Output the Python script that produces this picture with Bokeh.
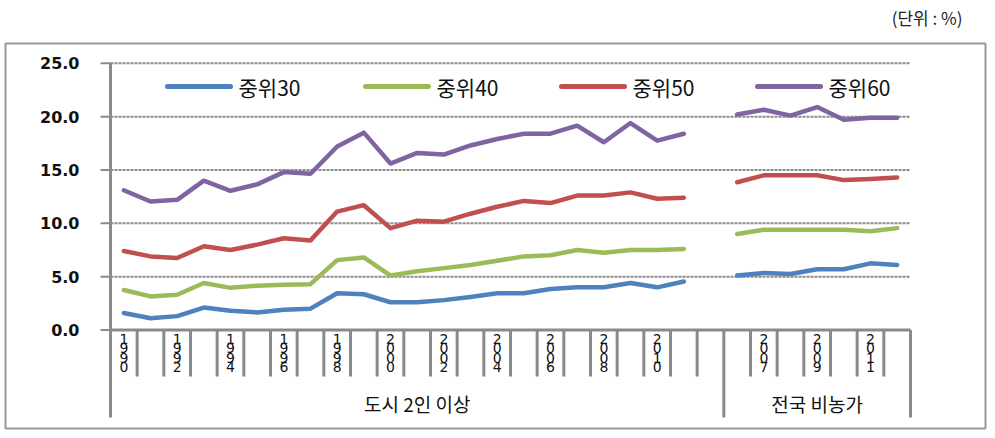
import math
from bokeh.plotting import figure
from bokeh.models import Range1d
from bokeh.core.properties import value
from bokeh.embed import file_html
from bokeh.resources import INLINE

# ---------------- data ----------------
urban_years = ["1990", "1991", "1992", "1993", "1994", "1995", "1996", "1997",
               "1998", "1999", "2000", "2001", "2002", "2003", "2004", "2005",
               "2006", "2007", "2008", "2009", "2010", "2011"]
national_years = ["2006", "2007", "2008", "2009", "2010", "2011", "2012"]
group_names = ["도시 2인 이상", "전국 비농가"]
series_names = ["중위30", "중위40", "중위50", "중위60"]

m30_urban = [1.6, 1.1, 1.3, 2.1, 1.8, 1.65, 1.9, 2.0, 3.45, 3.35, 2.6, 2.6,
             2.8, 3.1, 3.45, 3.45, 3.85, 4.0, 4.0, 4.4, 4.0, 4.55]
m40_urban = [3.75, 3.15, 3.3, 4.4, 3.95, 4.15, 4.25, 4.3, 6.55, 6.8, 5.1, 5.5,
             5.8, 6.1, 6.5, 6.9, 7.0, 7.5, 7.25, 7.5, 7.5, 7.6]
m50_urban = [7.4, 6.9, 6.75, 7.85, 7.5, 8.0, 8.6, 8.4, 11.1, 11.7, 9.55, 10.25,
             10.15, 10.9, 11.55, 12.1, 11.9, 12.6, 12.6, 12.9, 12.3, 12.4]
m60_urban = [13.1, 12.05, 12.2, 14.0, 13.05, 13.65, 14.8, 14.65, 17.2, 18.5, 15.6, 16.6,
             16.45, 17.3, 17.9, 18.4, 18.4, 19.15, 17.6, 19.4, 17.75, 18.4]

m30_nat = [5.1, 5.35, 5.25, 5.7, 5.7, 6.25, 6.1]
m40_nat = [9.0, 9.4, 9.4, 9.4, 9.4, 9.25, 9.55]
m50_nat = [13.85, 14.5, 14.5, 14.5, 14.05, 14.15, 14.3]
m60_nat = [20.2, 20.65, 20.1, 20.9, 19.7, 19.9, 19.9]

y_ticks = [0, 5, 10, 15, 20, 25]
y_tick_labels = ["0.0", "5.0", "10.0", "15.0", "20.0", "25.0"]
unit_label = "(단위 : %)"

colors = ["#4F81BD", "#9BBB59", "#C0504D", "#8064A2"]
GRAY = "#8a8a8a"

# ---------------- geometry helpers (page px -> data) ----------------
FIG_W, FIG_H = 990, 434
PAGE_OFF = 0
N_SLOTS = len(urban_years) + 1 + len(national_years)
AX_LEFT, AX_RIGHT = 110, 910
SLOT = (AX_RIGHT - AX_LEFT) / N_SLOTS
Y_ZERO = 329.5
PPU = 266.7 / 25.0


def dx(px):
    return (px - AX_LEFT) / SLOT - 0.5


def dy(py):
    return (Y_ZERO - py) / PPU


p = figure(width=FIG_W, height=FIG_H, output_backend="svg", toolbar_location=None,
           title=None, x_axis_location=None, y_axis_location=None, min_border=0,
           x_range=Range1d(dx(PAGE_OFF), dx(PAGE_OFF + FIG_W)),
           y_range=Range1d(dy(PAGE_OFF + FIG_H), dy(PAGE_OFF)))
p.outline_line_color = None
p.xgrid.visible = False
p.ygrid.visible = False
p.background_fill_color = "white"
p.border_fill_color = "white"

# outer box
p.quad(left=[dx(5)], right=[dx(985)], top=[dy(43)], bottom=[dy(428)],
       fill_color=None, line_color="#999999", line_width=2)

# categories
categories = urban_years + [""] + national_years
xs = list(range(len(categories)))
x_lo, x_hi = -0.5, len(categories) - 0.5

# dotted gridlines
grid_y = [t for t in y_ticks if t > 0]
p.segment(x0=[x_lo] * len(grid_y), y0=grid_y, x1=[x_hi] * len(grid_y), y1=grid_y,
          line_color=GRAY, line_width=2, line_dash="3 1")

# y axis line + ticks
p.segment(x0=[x_lo], y0=[y_ticks[-1]], x1=[x_lo], y1=[dy(417)], line_color=GRAY, line_width=3)
p.segment(x0=[dx(100)] * len(y_ticks), y0=y_ticks, x1=[x_lo] * len(y_ticks), y1=y_ticks,
          line_color=GRAY, line_width=2)
# x axis line
p.segment(x0=[x_lo], y0=[0], x1=[x_hi], y1=[0], line_color=GRAY, line_width=3)

# category boundary ticks
group_ends = [len(urban_years) + 0.5, len(categories) - 0.5]
short_b = [i + 0.5 for i in range(len(categories) - 1) if (i + 0.5) not in group_ends]
p.segment(x0=short_b, y0=[0] * len(short_b), x1=short_b, y1=[dy(376)] * len(short_b),
          line_color=GRAY, line_width=3)
p.segment(x0=group_ends, y0=[0] * 2, x1=group_ends, y1=[dy(417)] * 2,
          line_color=GRAY, line_width=3)

# y tick labels
p.text(x=[dx(79)] * len(y_ticks), y=y_ticks, text=y_tick_labels,
       text_align="right", text_baseline="middle", text_font=value("DejaVu Sans"),
       text_font_style="bold", text_font_size="16px", text_color="#111111")

# category labels (every other, stacked vertically)
lab_x = [i for i, c in enumerate(categories) if i % 2 == 0 and c]
lab_t = ["\n".join(categories[i]) for i in lab_x]
p.text(x=lab_x, y=[dy(330)] * len(lab_x), text=lab_t, text_align="center",
       text_baseline="top", text_font=value("DejaVu Sans"), text_font_size="14px",
       text_line_height=0.6, text_color="#111111")

# group labels
g_centers = [(x_lo + len(urban_years) + 0.5) / 2, (len(urban_years) + 0.5 + x_hi) / 2]
p.text(x=g_centers, y=[dy(403)] * 2, text=group_names, text_align="center",
       text_baseline="middle", text_font=value("Noto Sans CJK KR"), text_font_size="19px",
       text_color="#111111")

# series lines
nan = float("nan")
series = [m30_urban + [nan] + m30_nat,
          m40_urban + [nan] + m40_nat,
          m50_urban + [nan] + m50_nat,
          m60_urban + [nan] + m60_nat]
for vals, col in zip(series, colors):
    p.line(x=xs, y=vals, line_color=col, line_width=4.5, line_join="round", line_cap="round")

# legend (manual)
leg_line_start = [167, 365, 561, 757]
leg_len = 63
leg_y = dy(86)
p.segment(x0=[dx(s) for s in leg_line_start], y0=[leg_y] * 4,
          x1=[dx(s + leg_len) for s in leg_line_start], y1=[leg_y] * 4,
          line_color=colors, line_width=5, line_cap="round")
p.text(x=[dx(s + leg_len + 8) for s in leg_line_start], y=[leg_y] * 4, text=series_names,
       text_align="left", text_baseline="middle", text_font=value("Noto Sans CJK KR"),
       text_font_size="21px", text_color="#111111")

# unit label
p.text(x=[dx(962)], y=[dy(17)], text=[unit_label], text_align="right",
       text_baseline="middle", text_font=value("Noto Sans CJK KR"), text_font_size="17px",
       text_color="#222222")

open("out.html", "w").write(file_html(p, INLINE))
